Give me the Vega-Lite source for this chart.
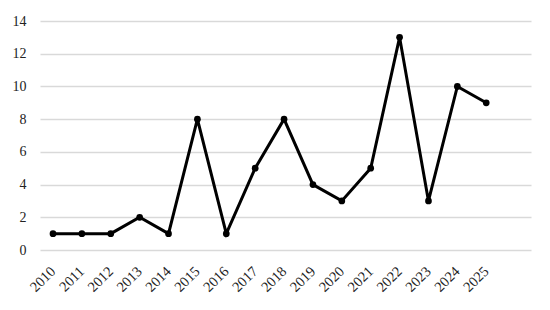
{
  "$schema": "https://vega.github.io/schema/vega-lite/v6.json",
  "width": 491,
  "height": 229,
  "autosize": "none",
  "padding": {"left": 40, "top": 21, "right": 19, "bottom": 60},
  "background": "white",
  "config": {"view": {"stroke": null}, "font": "Liberation Serif"},
  "data": {"values": [
    {"year": 2010, "value": 1},
    {"year": 2011, "value": 1},
    {"year": 2012, "value": 1},
    {"year": 2013, "value": 2},
    {"year": 2014, "value": 1},
    {"year": 2015, "value": 8},
    {"year": 2016, "value": 1},
    {"year": 2017, "value": 5},
    {"year": 2018, "value": 8},
    {"year": 2019, "value": 4},
    {"year": 2020, "value": 3},
    {"year": 2021, "value": 5},
    {"year": 2022, "value": 13},
    {"year": 2023, "value": 3},
    {"year": 2024, "value": 10},
    {"year": 2025, "value": 9}
  ]},
  "mark": {"type": "line", "color": "black", "strokeWidth": 3, "point": {"filled": true, "color": "black", "size": 45, "opacity": 1}},
  "encoding": {
    "x": {
      "field": "year", "type": "quantitative",
      "scale": {"domain": [2009.55, 2026.55], "nice": false, "zero": false},
      "axis": {
        "values": [2010, 2011, 2012, 2013, 2014, 2015, 2016, 2017, 2018, 2019, 2020, 2021, 2022, 2023, 2024, 2025],
        "format": "d", "labelAngle": -45, "labelAlign": "right", "labelBaseline": "middle",
        "grid": false, "domain": false, "ticks": false, "labelPadding": 19,
        "labelFontSize": 14.5, "labelColor": "#222222", "labelOverlap": false, "labelFlush": false,
        "title": null
      }
    },
    "y": {
      "field": "value", "type": "quantitative",
      "scale": {"domain": [0, 14], "nice": false},
      "axis": {
        "values": [0, 2, 4, 6, 8, 10, 12, 14],
        "grid": true, "gridColor": "#d9d9d9", "gridWidth": 1.5,
        "domain": false, "ticks": false, "labelPadding": 14,
        "labelFontSize": 14, "labelColor": "#222222", "title": null
      }
    }
  }
}
